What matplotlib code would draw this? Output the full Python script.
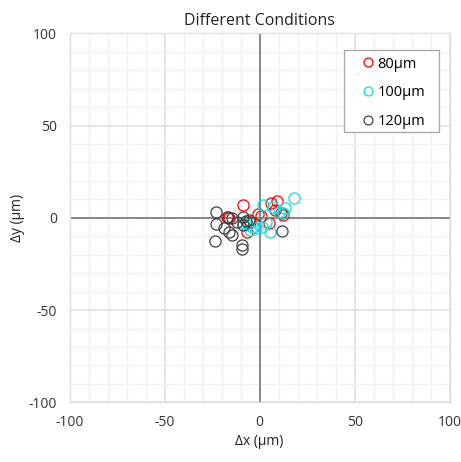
import matplotlib
matplotlib.use("Agg")
import matplotlib.pyplot as plt
from matplotlib.patches import Rectangle
from matplotlib.ticker import MultipleLocator, FuncFormatter

plt.rcParams['font.family'] = ['Open Sans', 'DejaVu Sans']

# Offsets (µm) for each condition
x_80 = [-8.6, -17.4, -16.0, -0.7, -6.8, 5.0, 6.0, 9.0, 8.0, 11.2, -5.0, 12.5, 0.5]
y_80 = [6.9, 0.6, 0.0, 1.9, -7.5, -2.6, 7.8, 9.3, 4.2, 2.4, -2.0, 1.5, 1.0]

x_100 = [18.2, 1.9, 5.4, 13.3, 12.4, -5.1, -3.4, 1.0, -8.6, 7.0, -6.0, 3.5, 10.0, -2.0]
y_100 = [10.5, 6.9, -7.5, 5.1, 2.4, -6.6, -4.8, -4.8, -3.0, 6.0, -4.0, -2.0, 3.0, -5.5]

x_120 = [-23.0, -23.0, -23.5, -18.8, -16.8, -14.7, -16.2, -14.4, -9.5, -9.5,
         -8.6, -8.6, -7.0, 11.6, -12.0, -5.5]
y_120 = [3.1, -3.5, -12.6, -5.4, 0.6, 0.0, -7.5, -9.3, -14.7, -17.0,
         0.3, -3.9, -1.5, -7.0, -2.5, -1.0]

series = [("80µm", x_80, y_80, "#ff0000"),
          ("100µm", x_100, y_100, "#00e5ee"),
          ("120µm", x_120, y_120, "#404040")]

W, H = 461, 462
fig = plt.figure(figsize=(W / 100, H / 100), dpi=100)
ax = fig.add_axes([0.151, 0.129, 0.8245, 0.799])

ax.set_xlim(-100, 100)
ax.set_ylim(-100, 100)
ax.xaxis.set_major_locator(MultipleLocator(50))
ax.yaxis.set_major_locator(MultipleLocator(50))
ax.xaxis.set_minor_locator(MultipleLocator(10))
ax.yaxis.set_minor_locator(MultipleLocator(10))
fmt = FuncFormatter(lambda v, p: f"{int(v)}".replace("\u2212", "-"))
ax.xaxis.set_major_formatter(fmt)
ax.yaxis.set_major_formatter(fmt)

ax.grid(which='major', color='#dedede', linewidth=1.1)
ax.grid(which='minor', color='#f1f1f1', linewidth=1.0)
ax.set_axisbelow(True)
for s in ax.spines.values():
    s.set_color('#dedede')
    s.set_linewidth(1.0)
ax.tick_params(which='both', length=0, labelsize=10, colors='#333333', pad=9)

ax.axhline(0, color='#808080', linewidth=1.3, zorder=1)
ax.axvline(0, color='#808080', linewidth=1.3, zorder=1)

for label, xs, ys, c in series:
    ax.plot(xs, ys, linestyle='none', marker='o', markersize=8,
            markerfacecolor='none', markeredgecolor=c, markeredgewidth=0.9,
            label=label, zorder=3)

# Legend box drawn separately so its padding can be set freely
box = Rectangle((344 / W, 1 - 132 / H), 95 / W, 82 / H, transform=fig.transFigure,
                facecolor='white', edgecolor='#a6a6a6', linewidth=0.9, zorder=4,
                clip_on=False)
ax.add_patch(box)
leg = ax.legend(loc='upper left', bbox_to_anchor=(361 / W, 1 - 56.5 / H),
                bbox_transform=fig.transFigure, fontsize=10.5, frameon=False,
                handletextpad=0.12, handlelength=1.0, labelspacing=0.95,
                borderpad=0, markerscale=0.8, borderaxespad=0)
leg.set_zorder(5)

ax.set_title("Different Conditions", fontsize=11.5, color='#222222', pad=6)
ax.set_xlabel("Δx (µm)", fontsize=10, color='#222222', labelpad=3)
ax.set_ylabel("Δy (µm)", fontsize=10, color='#222222', labelpad=3)

fig.savefig("out.png", dpi=100)
